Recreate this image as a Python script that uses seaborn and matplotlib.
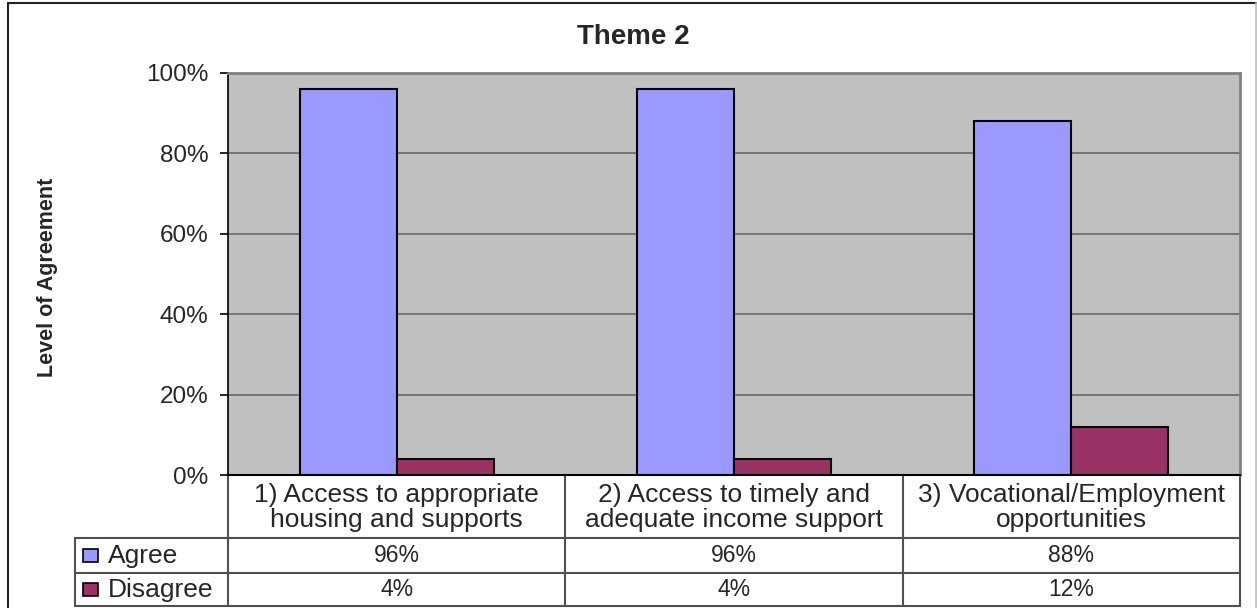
import matplotlib
matplotlib.use("Agg")
import matplotlib.pyplot as plt
import seaborn as sns
import pandas as pd
from matplotlib.lines import Line2D
from matplotlib.patches import Rectangle
from matplotlib.ticker import PercentFormatter, MultipleLocator

# ---- data ----
categories = [
    "1) Access to appropriate\nhousing and supports",
    "2) Access to timely and\nadequate income support",
    "3) Vocational/Employment\nopportunities",
]
series_names = ["Agree", "Disagree"]
agree = [0.96, 0.96, 0.88]
disagree = [0.04, 0.04, 0.12]
series_colors = ["#9999FF", "#993366"]

title = "Theme 2"
y_label = "Level of Agreement"

# ---- figure / layout (pixel based) ----
W, H = 1257, 608
sns.set_style("white")
plt.rcParams["font.family"] = ["Liberation Sans", "DejaVu Sans"]

fig = plt.figure(figsize=(W / 100, H / 100), dpi=100)
L, R, T, B = 228, 1240, 73, 475
ax = fig.add_axes([L / W, 1 - B / H, (R - L) / W, (B - T) / H])
ax.set_facecolor("#C0C0C0")

df = pd.DataFrame({
    "category": categories * 2,
    "series": [series_names[0]] * len(categories) + [series_names[1]] * len(categories),
    "value": agree + disagree,
})

sns.barplot(data=df, x="category", y="value", hue="series",
            hue_order=series_names, palette=series_colors, width=0.575,
            edgecolor="black", linewidth=1.5, ax=ax, legend=False,
            zorder=3, saturation=1)

ax.set_xlim(-0.5, len(categories) - 0.5)
ax.set_ylim(0, 1)
ax.yaxis.set_major_locator(MultipleLocator(0.2))
ax.yaxis.set_major_formatter(PercentFormatter(1, decimals=0))
ax.set_axisbelow(True)
ax.yaxis.grid(True, color="#707070", linewidth=1.3)
ax.set_xticks([])
ax.set_xlabel("")
ax.set_ylabel("")
ax.tick_params(axis="y", left=True, direction="out", length=6, width=1.2,
               color="black", pad=8, labelsize=17.5)

ax.spines["left"].set_color("black")
ax.spines["left"].set_linewidth(1.2)
ax.spines["bottom"].set_color("black")
ax.spines["bottom"].set_linewidth(1.5)
for s in ("top", "right"):
    ax.spines[s].set_color("#808080")
    ax.spines[s].set_linewidth(2)

# ---- titles ----
fig.text(633 / W, 1 - 37 / H, title, ha="center", va="center",
         fontsize=20, fontweight="bold")
fig.text(48 / W, 1 - 277 / H, y_label, ha="center", va="center",
         rotation=90, fontsize=15.5, fontweight="bold")

# ---- data table below the plot ----
trans = ax.get_xaxis_transform()
colw = (R - L) / len(categories)


def ay(py):
    return (B - py) / (B - T)


def dx(px):
    return -0.5 + (px - L) / colw


header_bottom, agree_bottom, table_bottom = 538, 573, 606
x_left = dx(75)
x_right = len(categories) - 0.5
line_kw = dict(transform=trans, clip_on=False, color="#505050", linewidth=1.5)

for py in (header_bottom, agree_bottom, table_bottom):
    ax.add_line(Line2D([x_left, x_right], [ay(py), ay(py)], **line_kw))
for i in range(len(categories) + 1):
    xv = i - 0.5
    ax.add_line(Line2D([xv, xv], [0, ay(table_bottom)], **line_kw))
ax.add_line(Line2D([x_left, x_left], [ay(header_bottom), ay(table_bottom)], **line_kw))

for i, cat in enumerate(categories):
    ax.text(i, ay((B + header_bottom) / 2 + 1), cat, transform=trans, ha="center",
            va="center", fontsize=19, linespacing=1.08, clip_on=False)

row_centers = [(header_bottom + agree_bottom) / 2, (agree_bottom + table_bottom) / 2]
for name, vals, color, yc in zip(series_names, [agree, disagree], series_colors, row_centers):
    for i, v in enumerate(vals):
        ax.text(i, ay(yc), f"{v:.0%}", transform=trans, ha="center",
                va="center", fontsize=16.5, clip_on=False)
    ax.add_patch(Rectangle((dx(83), ay(yc + 6.5)), 15 / colw, ay(yc - 6.5) - ay(yc + 6.5),
                           transform=trans, clip_on=False, facecolor=color,
                           edgecolor="black", linewidth=1.2))
    ax.text(dx(108), ay(yc), name, transform=trans, ha="left", va="center",
            fontsize=19, clip_on=False)

# ---- outer chart frame ----
fig.add_artist(Line2D([8 / W, 8 / W], [0, 1 - 3 / H], transform=fig.transFigure,
                      color="#222222", linewidth=1.5))
fig.add_artist(Line2D([8 / W, 1256 / W], [1 - 3 / H, 1 - 3 / H], transform=fig.transFigure,
                      color="#222222", linewidth=1.5))
fig.add_artist(Line2D([1256 / W, 1256 / W], [0, 1 - 3 / H], transform=fig.transFigure,
                      color="#BBBBBB", linewidth=1.2))

fig.savefig("out.png", dpi=100, facecolor="white")
